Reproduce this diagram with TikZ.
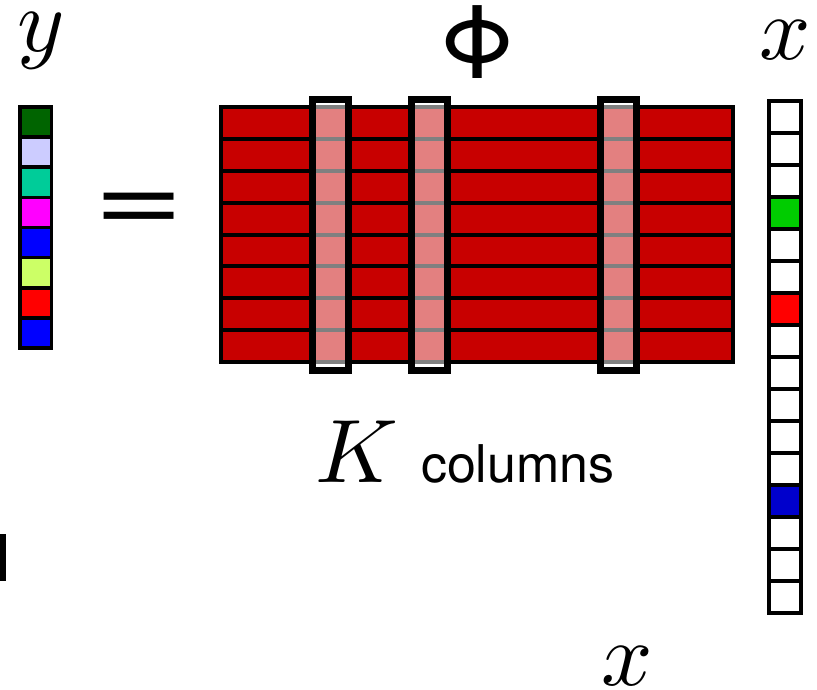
\documentclass[tikz,border=0pt]{standalone}
\usepackage{fontspec}
\setsansfont{TeX Gyre Heros}
\definecolor{phired}{RGB}{200,0,0}
\definecolor{ydkgreen}{RGB}{0,100,0}
\definecolor{ylavender}{RGB}{204,204,255}
\definecolor{yteal}{RGB}{0,204,153}
\definecolor{ymagenta}{RGB}{255,0,255}
\definecolor{yblue}{RGB}{0,0,255}
\definecolor{ylime}{RGB}{204,255,102}
\definecolor{yred}{RGB}{255,0,0}
\definecolor{xgreen}{RGB}{0,204,0}
\definecolor{xblue}{RGB}{0,0,204}
\begin{document}
\begin{tikzpicture}[x=1pt,y=-1pt,
  cell/.style={draw=black,line width=3.5pt},
  phirow/.style={draw=black,fill=phired,line width=4pt},
  colbox/.style={draw=black,line width=7pt,fill=white,fill opacity=0.5},
  sym/.style={inner sep=0pt,scale=9}]
\useasboundingbox[fill=white] (0,0) rectangle (817,690);
% measurement vector y
\foreach \c [count=\i from 0] in {ydkgreen,ylavender,yteal,ymagenta,yblue,ylime,yred,yblue}
{
    \draw[cell,fill=\c] (20,107+\i*30.125) rectangle ++(31.5,30.125);
}
\node[sym,anchor=base] (ylab) at (41,52) {$y$};
\node[inner sep=0pt,xscale=15.6,yscale=10.5] (eq) at (139,213) {\sffamily =};
% matrix Phi
\foreach \r in {0,...,7}
{
    \draw[phirow] (221,107+\r*31.875) rectangle (733,107+\r*31.875+31.875);
}
\foreach \a in {312.5,411.5,600.5}
{
    \draw[colbox] (\a,99.5) rectangle (\a+36,370.5);
}
\node[inner sep=0pt,scale=10,anchor=center] (philab) at (478,42) {\sffamily Φ};
\node[sym,anchor=base] (klab) at (357,482) {$K$};
\node[inner sep=0pt,scale=5.2,anchor=base west] (cols) at (420,482) {\sffamily columns};
% sparse vector x
\foreach \i in {0,...,15}
{
    \draw[cell] (769,101+\i*32) rectangle ++(32,32);
}
\draw[cell,fill=xgreen] (769,197) rectangle ++(32,32);
\draw[cell,fill=yred] (769,293) rectangle ++(32,32);
\draw[cell,fill=xblue] (769,485) rectangle ++(32,32);
\node[sym,anchor=base] (xtop) at (785,60) {$x$};
\node[sym,anchor=base] (xbot) at (627,685) {$x$};
\fill (0,534) rectangle (6,581);
\end{tikzpicture}
\end{document}
